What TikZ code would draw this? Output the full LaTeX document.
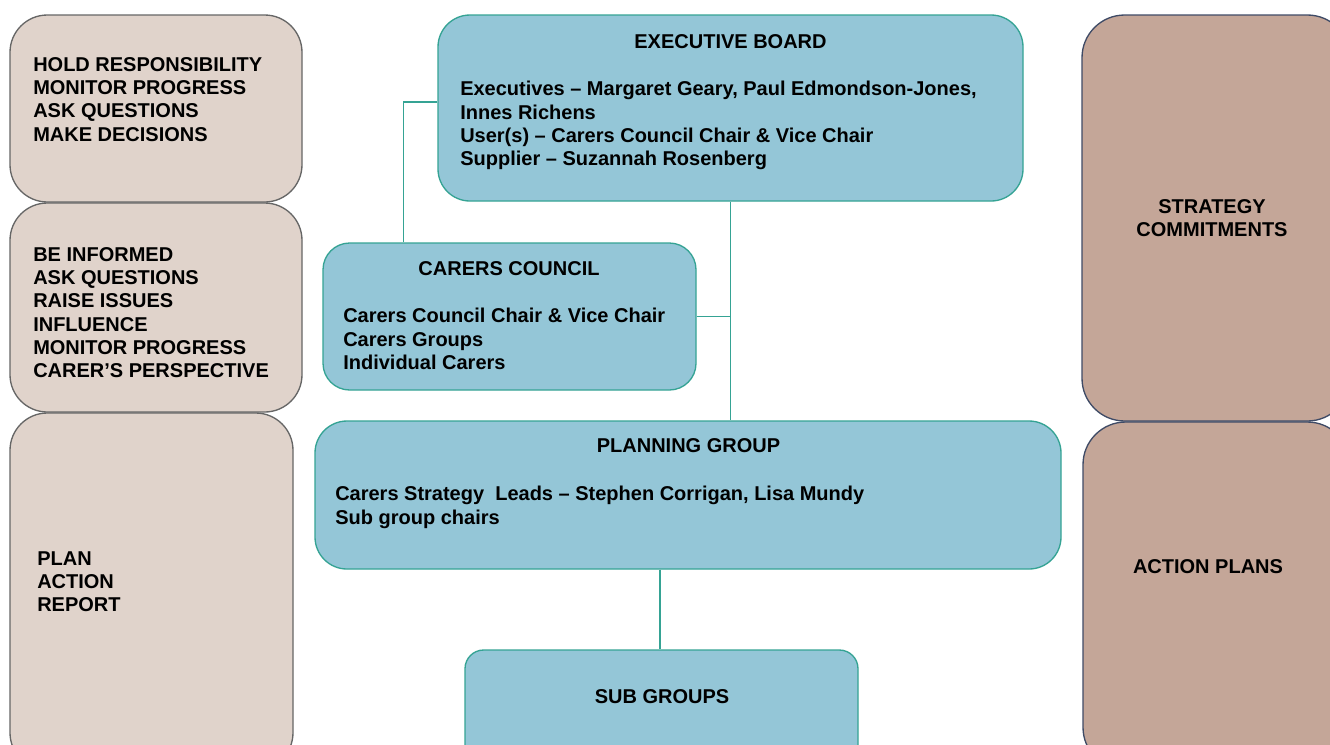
\documentclass[tikz,border=0pt]{standalone}
\usepackage{fontspec}
\setmainfont{Liberation Sans}
\usetikzlibrary{fit,calc}
\definecolor{bluefill}{HTML}{94C6D7}
\definecolor{blueedge}{HTML}{35A394}
\definecolor{leftfill}{HTML}{E0D3CB}
\definecolor{leftedge}{HTML}{666666}
\definecolor{rightfill}{HTML}{C4A698}
\definecolor{rightedge}{HTML}{3F4B66}
\begin{document}
\begin{tikzpicture}[x=0.75pt,y=-0.75pt,
  basebox/.style={inner sep=0pt, line width=1pt},
  bluebox/.style={basebox, draw=blueedge, fill=bluefill},
  leftbox/.style={basebox, draw=leftedge, fill=leftfill, rounded corners=28pt},
  rightbox/.style={basebox, draw=rightedge, fill=rightfill, rounded corners=32pt},
  txt/.style={anchor=north west, align=left, inner sep=0pt,
    font=\bfseries\fontsize{15}{17.5}\selectfont},
  ttl/.style={anchor=center, align=center, inner sep=0pt,
    font=\bfseries\fontsize{15}{17.5}\selectfont},
  link/.style={draw=blueedge, line width=1pt}]
\useasboundingbox (0,0) rectangle (1330,744);
\clip (0,0) rectangle (1330,744);
\fill[white] (0,0) rectangle (1330,744);

% left column
\node[leftbox, fit={(10,15) (302,202)}] (l1) {};
\node[leftbox, fit={(10,203) (302,412)}] (l2) {};
\node[leftbox, fit={(10,413) (293,770)}] (l3) {};
\node[txt] (l1t) at (33,57) {HOLD RESPONSIBILITY\\MONITOR PROGRESS\\ASK QUESTIONS\\MAKE DECISIONS};
\node[txt] (l2t) at (33,247) {BE INFORMED\\ASK QUESTIONS\\RAISE ISSUES\\INFLUENCE\\MONITOR PROGRESS\\CARER’S PERSPECTIVE};
\node[txt] (l3t) at (37,551) {PLAN\\ACTION\\REPORT};

% right column
\node[rightbox, fit={(1082,15) (1350,421)}] (r1) {};
\node[rightbox, fit={(1083,422) (1350,770)}] (r2) {};
\node[ttl] (r1t) at (1212,218) {STRATEGY\\COMMITMENTS};
\node[ttl] (r2t) at (1208,567) {ACTION PLANS};

% centre boxes
\node[bluebox, rounded corners=24pt, fit={(438,15) (1023,201)}] (exec) {};
\node[bluebox, rounded corners=20pt, fit={(323,243) (696,390)}] (cc) {};
\node[bluebox, rounded corners=24pt, fit={(315,421) (1061,569)}] (plan) {};
\node[bluebox, rounded corners=14pt, fit={(465,650) (858,780)}] (sub) {};

\node[ttl] (exect) at (730.5,42) {EXECUTIVE BOARD};
\node[txt] (execb) at (460,81) {Executives – Margaret Geary, Paul Edmondson-Jones,\\Innes Richens\\User(s) – Carers Council Chair \& Vice Chair\\Supplier – Suzannah Rosenberg};
\node[ttl] (cct) at (509,269) {CARERS COUNCIL};
\node[txt] (ccb) at (343,308) {Carers Council Chair \& Vice Chair\\Carers Groups\\Individual Carers};
\node[ttl] (plant) at (688.5,446) {PLANNING GROUP};
\node[txt] (planb) at (335,486) {Carers Strategy\ \ Leads – Stephen Corrigan, Lisa Mundy\\Sub group chairs};
\node[ttl] (subt) at (662,697) {SUB GROUPS};

% connectors
\coordinate (ccup) at ($(cc.north west)+(81,0)$);
\coordinate (execl) at ($(exec.west)+(0,-6)$);
\coordinate (subx) at (660,0);
\draw[link] (execl) -| (ccup);
\draw[link] (exec.south) -- (exec.south |- plan.north);
\draw[link] (cc.east) -- (cc.east -| exec.south);
\draw[link] (plan.south -| subx) -- (sub.north -| subx);
\end{tikzpicture}
\end{document}
